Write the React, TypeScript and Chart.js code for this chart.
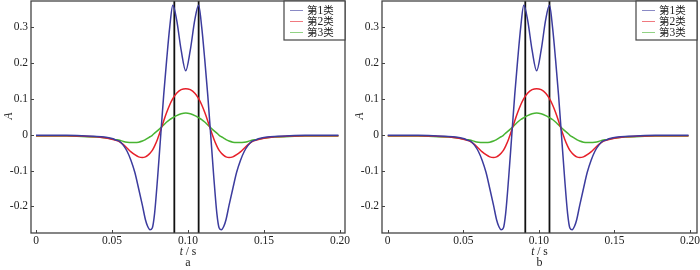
import React, { useEffect, useRef } from "react";
import { Chart, registerables } from "chart.js";

Chart.register(...registerables);

// ---- data ----
const X = [
  0, 0.01, 0.02, 0.03, 0.04, 0.045, 0.05, 0.0525, 0.055, 0.0575,
  0.06, 0.0625, 0.065, 0.0675, 0.07, 0.072, 0.0735, 0.075, 0.0765, 0.078,
  0.08, 0.082, 0.084, 0.086, 0.088, 0.09, 0.0925, 0.0955, 0.0985,
  0.1015, 0.1045, 0.107, 0.109, 0.111, 0.113, 0.115, 0.117, 0.119, 0.1205,
  0.122, 0.1235, 0.125, 0.127, 0.1295, 0.132, 0.1345, 0.137, 0.1395, 0.142,
  0.1445, 0.147, 0.152, 0.157, 0.167, 0.177, 0.187, 0.199,
];

const CLASS1 = [
  -0.002, -0.002, -0.002, -0.003, -0.005, -0.007, -0.011, -0.015, -0.019, -0.03,
  -0.047, -0.072, -0.105, -0.15, -0.197, -0.237, -0.256, -0.265, -0.26, -0.22,
  -0.12, -0.005, 0.11, 0.21, 0.3, 0.36, 0.32, 0.235, 0.178,
  0.235, 0.32, 0.36, 0.3, 0.21, 0.11, -0.005, -0.12, -0.22, -0.26,
  -0.265, -0.256, -0.237, -0.197, -0.15, -0.105, -0.072, -0.047, -0.03, -0.019,
  -0.015, -0.011, -0.007, -0.005, -0.003, -0.002, -0.002, -0.002,
];

const CLASS2 = [
  -0.003, -0.003, -0.003, -0.004, -0.006, -0.009, -0.013, -0.016, -0.02, -0.028,
  -0.038, -0.048, -0.056, -0.062, -0.064, -0.062, -0.058, -0.052, -0.044, -0.032,
  -0.012, 0.012, 0.038, 0.062, 0.083, 0.1, 0.115, 0.125, 0.128,
  0.125, 0.115, 0.1, 0.083, 0.062, 0.038, 0.012, -0.012, -0.032, -0.044,
  -0.052, -0.058, -0.062, -0.064, -0.062, -0.056, -0.048, -0.038, -0.028, -0.02,
  -0.016, -0.013, -0.009, -0.006, -0.004, -0.003, -0.003, -0.003,
];

const CLASS3 = [
  -0.004, -0.004, -0.004, -0.005, -0.007, -0.009, -0.012, -0.014, -0.016, -0.019,
  -0.021, -0.022, -0.022, -0.021, -0.018, -0.014, -0.01, -0.006, -0.002, 0.004,
  0.011, 0.019, 0.027, 0.035, 0.042, 0.047, 0.053, 0.058, 0.06,
  0.058, 0.053, 0.047, 0.042, 0.035, 0.027, 0.019, 0.011, 0.004, -0.002,
  -0.006, -0.01, -0.014, -0.018, -0.021, -0.022, -0.022, -0.021, -0.019, -0.016,
  -0.014, -0.012, -0.009, -0.007, -0.005, -0.004, -0.004, -0.004,
];

const SERIES = [CLASS1, CLASS2, CLASS3];
const SERIES_NAMES = ["第1类", "第2类", "第3类"];
const VLINES = [0.091, 0.107];

const X_TICKS = [0, 0.05, 0.1, 0.15, 0.2];
const X_TICK_LABELS = ["0", "0.05", "0.10", "0.15", "0.20"];
const Y_TICKS = [-0.2, -0.1, 0, 0.1, 0.2, 0.3];
const Y_TICK_LABELS = ["-0.2", "-0.1", "0", "0.1", "0.2", "0.3"];
const X_TITLE = "t / s";
const Y_TITLE = "A";
const PANEL_LABELS = ["a", "b"];

const Y_MIN = -0.274;
const Y_MAX = 0.372;

// ---- styles ----
const COLORS = ["#3c3c9e", "#e6202a", "#48b432"];
const SERIF = '"Liberation Serif", serif';
const CJK = '"Noto Sans CJK SC", sans-serif';
const PANEL_GEOM = [
  { left: 31, padRight: 5, xMin: -0.0033, xMax: 0.2033 },
  { left: 32, padRight: 3, xMin: -0.0038, xMax: 0.2046 },
];

function drawMixed(ctx: CanvasRenderingContext2D, text: string, x: number, y: number) {
  let cx = x;
  for (const ch of Array.from(text)) {
    const isCjk = /[\u3000-\u9fff]/.test(ch);
    ctx.font = isCjk ? "10.5px " + CJK : "11.5px " + SERIF;
    ctx.fillText(ch, cx, isCjk ? y : y + 0.5);
    cx += ctx.measureText(ch).width;
  }
}

function decorPlugin(panelLabel: string) {
  return {
    id: "decor" + panelLabel,
    afterDraw(chart: any) {
      const ctx = chart.ctx as CanvasRenderingContext2D;
      const a = chart.chartArea;
      const xs = chart.scales.x;
      const ys = chart.scales.y;
      ctx.save();
      // frame
      ctx.strokeStyle = "#444";
      ctx.lineWidth = 1.3;
      ctx.strokeRect(a.left, a.top, a.right - a.left, a.bottom - a.top);
      // inward ticks
      ctx.lineWidth = 1;
      ctx.beginPath();
      X_TICKS.forEach((v) => {
        const px = Math.round(xs.getPixelForValue(v)) + 0.5;
        ctx.moveTo(px, a.bottom);
        ctx.lineTo(px, a.bottom - 3);
      });
      Y_TICKS.forEach((v) => {
        const py = Math.round(ys.getPixelForValue(v)) + 0.5;
        ctx.moveTo(a.left, py);
        ctx.lineTo(a.left + 3, py);
      });
      ctx.stroke();

      // axis titles
      ctx.fillStyle = "#222";
      const cx = (a.left + a.right) / 2;
      ctx.textBaseline = "alphabetic";
      const parts = X_TITLE.split(" ");
      ctx.font = "italic 11.5px " + SERIF;
      const tW = ctx.measureText(parts[0]).width;
      ctx.font = "11.5px " + SERIF;
      const restText = " " + parts.slice(1).join(" ");
      const rW = ctx.measureText(restText).width;
      const startX = cx - (tW + rW) / 2;
      ctx.textAlign = "left";
      ctx.font = "italic 11.5px " + SERIF;
      ctx.fillText(parts[0], startX, 255);
      ctx.font = "11.5px " + SERIF;
      ctx.fillText(restText, startX + tW, 255);
      ctx.textAlign = "center";
      ctx.font = "12px " + SERIF;
      ctx.fillText(panelLabel, cx, 266);

      ctx.save();
      ctx.translate(a.left - 22, (a.top + a.bottom) / 2 - 1);
      ctx.rotate(-Math.PI / 2);
      ctx.font = "italic 11.5px " + SERIF;
      ctx.textAlign = "center";
      ctx.textBaseline = "middle";
      ctx.fillText(Y_TITLE, 0, 0);
      ctx.restore();

      // legend
      const w = 61;
      const h = 39;
      const lx = a.right - w;
      const ly = a.top;
      ctx.fillStyle = "#fff";
      ctx.fillRect(lx, ly, w, h);
      ctx.strokeStyle = "#444";
      ctx.lineWidth = 1.2;
      ctx.strokeRect(lx, ly, w, h);
      ctx.textAlign = "left";
      ctx.textBaseline = "middle";
      chart.data.datasets.slice(0, SERIES.length).forEach((ds: any, i: number) => {
        const y = ly + 9.5 + i * 11;
        ctx.strokeStyle = ds.borderColor;
        ctx.globalAlpha = 0.6;
        ctx.lineWidth = 1;
        ctx.beginPath();
        ctx.moveTo(lx + 6, y);
        ctx.lineTo(lx + 19, y);
        ctx.stroke();
        ctx.globalAlpha = 1;
        ctx.fillStyle = "#222";
        drawMixed(ctx, ds.label, lx + 23, y);
      });
      ctx.restore();
    },
  };
}

function zeroPad(s: any) {
  s.paddingTop = 0;
  s.paddingBottom = 0;
  s.paddingLeft = 0;
  s.paddingRight = 0;
}

function makeChart(canvas: HTMLCanvasElement, idx: number) {
  const g = PANEL_GEOM[idx];
  const datasets: any[] = SERIES.map((s, i) => ({
    label: SERIES_NAMES[i],
    data: X.map((x, j) => ({ x, y: s[j] })),
    borderColor: COLORS[i],
    borderWidth: 1.5,
    pointRadius: 0,
    cubicInterpolationMode: "monotone",
    fill: false,
  }));
  VLINES.forEach((v) => {
    datasets.push({
      label: "",
      data: [
        { x: v, y: Y_MIN },
        { x: v, y: Y_MAX },
      ],
      borderColor: "#111",
      borderWidth: 1.8,
      pointRadius: 0,
      fill: false,
    });
  });
  return new Chart(canvas, {
    type: "line",
    data: { datasets },
    options: {
      animation: false,
      responsive: false,
      events: [],
      layout: { padding: { left: 0, right: g.padRight, top: 1, bottom: 0 } },
      plugins: { legend: { display: false }, tooltip: { enabled: false } },
      scales: {
        x: {
          type: "linear",
          min: g.xMin,
          max: g.xMax,
          afterFit: (s: any) => {
            s.height = 37;
            zeroPad(s);
          },
          afterBuildTicks: (s: any) => {
            s.ticks = X_TICKS.map((value) => ({ value }));
          },
          ticks: {
            autoSkip: false,
            maxRotation: 0,
            padding: 1,
            color: "#222",
            font: { family: SERIF, size: 11.5 },
            callback: (_v: any, i: number) => X_TICK_LABELS[i],
          },
          grid: { display: false, drawTicks: false },
          border: { display: false },
        },
        y: {
          type: "linear",
          min: Y_MIN,
          max: Y_MAX,
          afterFit: (s: any) => {
            s.width = g.left;
            zeroPad(s);
          },
          afterBuildTicks: (s: any) => {
            s.ticks = Y_TICKS.map((value) => ({ value }));
          },
          ticks: {
            autoSkip: false,
            padding: 3,
            color: "#222",
            font: { family: SERIF, size: 11.5 },
            callback: (_v: any, i: number) => Y_TICK_LABELS[i],
          },
          grid: { display: false, drawTicks: false },
          border: { display: false },
        },
      },
    } as any,
    plugins: [decorPlugin(PANEL_LABELS[idx])],
  });
}

export default function App() {
  const refA = useRef<HTMLCanvasElement>(null);
  const refB = useRef<HTMLCanvasElement>(null);
  useEffect(() => {
    const charts: Chart[] = [];
    if (refA.current) charts.push(makeChart(refA.current, 0));
    if (refB.current) charts.push(makeChart(refB.current, 1));
    return () => charts.forEach((c) => c.destroy());
  }, []);
  return (
    <div style={{ position: "fixed", left: 0, top: 0, width: 700, height: 270, background: "#fff" }}>
      <canvas ref={refA} width={350} height={270} style={{ position: "absolute", left: 0, top: 0 }} />
      <canvas ref={refB} width={350} height={270} style={{ position: "absolute", left: 350, top: 0 }} />
    </div>
  );
}
